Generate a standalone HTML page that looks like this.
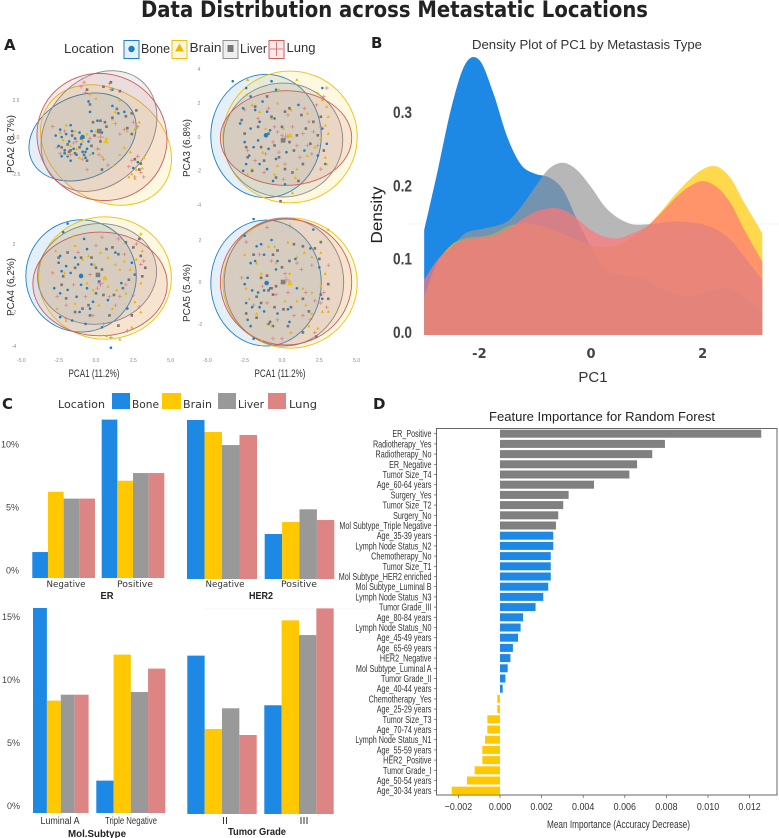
<!DOCTYPE html>
<html lang="en">
<head>
<meta charset="utf-8">
<title>Data Distribution across Metastatic Locations</title>
<style>
html,body{margin:0;padding:0;background:#fff;}
svg{display:block;font-family:"Liberation Sans",sans-serif;}
</style>
</head>
<body>
<svg id="fig" xmlns="http://www.w3.org/2000/svg" width="779" height="838" viewBox="0 0 779 838">
<rect width="779" height="838" fill="#fff"/>
<text x="141" y="17" font-family="'DejaVu Sans',sans-serif" font-weight="700" font-size="22" fill="#222" textLength="507" lengthAdjust="spacingAndGlyphs">Data Distribution across Metastatic Locations</text>
<text x="4" y="50" font-family="'DejaVu Sans',sans-serif" font-weight="700" font-size="15" fill="#222">A</text>
<text x="371" y="48" font-family="'DejaVu Sans',sans-serif" font-weight="700" font-size="15" fill="#222">B</text>
<text x="2" y="409" font-family="'DejaVu Sans',sans-serif" font-weight="700" font-size="15" fill="#222">C</text>
<text x="373" y="409" font-family="'DejaVu Sans',sans-serif" font-weight="700" font-size="15" fill="#222">D</text>

<g>
<text x="64" y="53" font-size="13" fill="#333" textLength="50" lengthAdjust="spacingAndGlyphs">Location</text>
<rect x="124" y="40.500" width="15" height="18" fill="#e4f0fa" stroke="#1f7fc4" stroke-width="1"/>
<circle cx="131.500" cy="49" r="3.200" fill="#1f7fc4"/>
<text x="141" y="53" font-size="13" fill="#333" textLength="29" lengthAdjust="spacingAndGlyphs">Bone</text>
<rect x="172" y="40.500" width="15" height="18" fill="#fdf7dd" stroke="#eebf10" stroke-width="1"/>
<polygon points="179.500,43.500 184,51.500 175,51.500" fill="#eeb500"/>
<text x="189.500" y="52" font-size="13" fill="#333" textLength="32" lengthAdjust="spacingAndGlyphs">Brain</text>
<rect x="223" y="40.500" width="15" height="18" fill="#eeeeee" stroke="#8f8f8f" stroke-width="1"/>
<rect x="227.500" y="45" width="6" height="7" fill="#777"/>
<text x="240" y="53" font-size="13" fill="#333" textLength="27" lengthAdjust="spacingAndGlyphs">Liver</text>
<rect x="269" y="40.500" width="15" height="18" fill="#fae9e7" stroke="#cd5c5c" stroke-width="1"/>
<path d="M276.500 42V56M270 49H283" stroke="#cd5c5c" stroke-width="0.800" fill="none"/>
<text x="286.500" y="52" font-size="13" fill="#333" textLength="29" lengthAdjust="spacingAndGlyphs">Lung</text>
</g>
<g id="pca"></g>

<line x1="408" y1="224" x2="779" y2="224" stroke="#f0f0f0" stroke-width="0.700"/>
<line x1="205" y1="609" x2="370" y2="609" stroke="#f0f0f0" stroke-width="0.700"/>
<g id="density">
<text x="472" y="49" font-size="12.500" fill="#333" textLength="230" lengthAdjust="spacingAndGlyphs">Density Plot of PC1 by Metastasis Type</text>
<text transform="translate(382,215) rotate(-90)" text-anchor="middle" font-size="16" fill="#222" textLength="57" lengthAdjust="spacingAndGlyphs">Density</text>
<text x="593" y="382" text-anchor="middle" font-size="15" fill="#333">PC1</text>
</g>

<g>
<text x="58" y="408" font-family="'DejaVu Sans',sans-serif" font-size="10.500" fill="#333" textLength="47" lengthAdjust="spacingAndGlyphs">Location</text>
<rect x="112" y="393" width="18" height="16" fill="#1e88e5"/>
<text x="132" y="408" font-family="'DejaVu Sans',sans-serif" font-size="10.500" fill="#333" textLength="27" lengthAdjust="spacingAndGlyphs">Bone</text>
<rect x="162" y="393" width="19" height="16" fill="#ffc800"/>
<text x="183" y="408" font-family="'DejaVu Sans',sans-serif" font-size="10.500" fill="#333" textLength="29" lengthAdjust="spacingAndGlyphs">Brain</text>
<rect x="218" y="393" width="18" height="16" fill="#999"/>
<text x="238" y="408" font-family="'DejaVu Sans',sans-serif" font-size="10.500" fill="#333" textLength="26" lengthAdjust="spacingAndGlyphs">Liver</text>
<rect x="268" y="393" width="18" height="16" fill="#dd8585"/>
<text x="289" y="408" font-family="'DejaVu Sans',sans-serif" font-size="10.500" fill="#333" textLength="28" lengthAdjust="spacingAndGlyphs">Lung</text>
</g>
<g id="bars"></g>

<g id="importance">
<text x="489" y="421" font-size="13" fill="#222" textLength="226" lengthAdjust="spacingAndGlyphs">Feature Importance for Random Forest</text>
<text x="547" y="828" font-size="11" fill="#333" textLength="143" lengthAdjust="spacingAndGlyphs">Mean Importance (Accuracy Decrease)</text>
</g>

<script>
// ---------- Panel A data (in PCA units) ----------
const locations = ['Bone', 'Brain', 'Liver', 'Lung'];
const ellipseCx12 = [-0.9, 0.67, 0.2, 0.4];
const ellipseCy12 = [0, -0.54, 0.4, 0];
const ellipseRx12 = [3.75, 4.7, 4.4, 4.4];
const ellipseRy12 = [2.77, 3.7, 3.5, 4.25];
const ellipseTilt12 = [-25, 35, -50, 30];
const ellipseCx13 = [-1.07, 0.54, 0.07, 0.27];
const ellipseCy13 = [0.06, 0, -0.18, -0.06];
const ellipseRx13 = [3.7, 4.5, 4.0, 4.4];
const ellipseRy13 = [3.65, 3.9, 3.37, 2.8];
const ellipseTilt13 = [0, 0, 0, 0];
const ellipseCx14 = [-1.0, 0.6, 0.07, 0.27];
const ellipseCy14 = [0.12, 0, 0.24, -0.35];
const ellipseRx14 = [3.7, 4.45, 4.0, 4.5];
const ellipseRy14 = [3.3, 3.6, 2.95, 3.05];
const ellipseTilt14 = [0, 0, -8, 0];
const ellipseCx15 = [-1.07, 0.54, 0.13, 0.27];
const ellipseCy15 = [-0.05, -0.05, 0, 0];
const ellipseRx15 = [3.7, 4.5, 4.0, 4.4];
const ellipseRy15 = [3.0, 3.1, 3.05, 3.0];
const ellipseTilt15 = [0, 0, 0, 0];

const centroid12 = [[-0.9, 0], [0.67, -0.27], [0.22, 0.4], [0.3, 0]];
const centroid13 = [[-1.07, 0.1], [0.54, 0.1], [0.07, -0.2], [0.25, 0]];
const centroid14 = [[-1, 0.12], [0.6, 0], [0.13, 0.18], [0.3, -0.3]];
const centroid15 = [[-1.03, -0.05], [0.54, -0.05], [0.07, 0], [0.27, 0.1]];

const pca2Bone = [[-2.7,0.1],[-2.5,-0.6],[-2.4,0.5],[-2.3,-1.3],[-2.1,-0.9],[-2,0.2],[-1.9,-1.3],[-1.8,-0.3],[-1.7,0.8],[-1.6,0.4],[-1.5,-0.8],[-1.4,-0.1],[-1.3,-1.2],[-1.1,0.3],[-1,-0.5],[-0.9,-1],[-0.7,-1.4],[-0.6,-0.8],[-0.5,-0.3],[-0.3,0.4],[-0.2,-1.1],[0.1,1.1],[-0.4,1.7],[-0.5,2.4],[1.1,3.2],[1.5,1.6],[1.1,2.1],[0.4,0.3],[1.9,1.7],[2.5,-2.1],[2.8,-1.7],[-0.7,-1],[-1.7,-1.6],[-2.3,0]];
const pca2Brain = [[-2.4,0.3],[-2.2,-0.2],[-2,0.8],[-1.9,-1.2],[-1.7,-0.6],[-1.4,0.4],[-1.3,-0.8],[-1.1,-1.4],[-0.9,-0.3],[-0.6,0.2],[-0.4,-1.2],[0,0.4],[0.2,-0.8],[0.4,-1.3],[0.7,-0.1],[1.2,-1.9],[1.3,1.7],[1.6,2.5],[1.1,1.2],[-0.4,2.9],[0,2.6],[2.1,0.4],[2.6,0.5],[1.9,-0.7],[2.3,-1],[2.4,-2.5],[2.7,-2.2],[3,-1.7],[3.1,-2.1],[2.6,-2.8],[2.2,-2.7],[3.2,-1.4],[2.9,1],[1.6,-1.2]];
const pca2Liver = [[-2.3,-0.7],[-2.1,-1.1],[-1.9,-0.5],[-1.8,-1],[-1.6,0.1],[-1.4,-1.1],[-1,-0.1],[-0.8,-1.2],[-0.6,-1.6],[-0.3,-0.6],[-0.1,0.1],[0.3,-0.3],[-0.2,1],[0.3,1.1],[0.6,1],[1.1,1.3],[1.4,1.9],[1.6,3.1],[1,3.7],[0.5,3.4],[-0.6,3.2],[-0.4,2.2],[2,1.4],[2.4,1.6],[2.7,1.8],[2.1,0.6],[2.4,0.2],[0.4,-2.2],[2.6,-1.5],[2.9,-2.2],[3,-1.8],[0.7,0.7],[-1.1,-0.7],[-1.7,-0.9]];
const pca2Lung = [[-2.6,-0.7],[-2.4,-1.1],[-2.1,0.4],[-1.7,-1.2],[-1.3,-0.3],[-0.9,-1.5],[-0.6,-2.2],[-0.4,-0.1],[0.2,-1.2],[0.5,-1.5],[1,3.2],[0.9,3.6],[-0.8,3.7],[-1,3.4],[-0.7,3],[1.3,0.9],[1.9,0.5],[2.5,1],[2.2,-2],[2.6,-2.7],[2.8,-1.3],[3,-2.4],[2.4,-1.6],[3.2,-2.7],[0.8,-1.9],[0.1,-0.8],[-2.9,0.7],[-1.5,-0.4],[1.6,0.2],[2.8,0.7]];

const pca3Bone = [[-3.3,3.3],[-2.4,2.9],[-2.1,2.4],[-2.6,1.7],[-2.8,0.8],[-2.5,-0.3],[-2.4,-1.6],[-2.6,-2],[-1.9,-0.6],[-1.5,0.9],[-1.3,2.1],[-1,1.5],[-0.8,0.4],[-0.9,-0.7],[-1.6,-0.2],[-1.5,-1.6],[-1,-1.9],[-0.4,-1.3],[-0.6,-2.6],[0.2,-2.8],[-0.5,1.1],[-0.4,2.8],[-0.7,3.3],[2.7,2.9],[1.1,1.9],[2.7,0.5],[3,-0.4],[2.4,-1.1],[2.9,-1.6],[-2.1,0.5],[-1.8,1.6],[-2.2,-1.1],[0.3,-0.9],[1.5,-0.8]];
const pca3Brain = [[-2.3,3.4],[-2.4,2.5],[-2,1.9],[-1.5,1.5],[-2,-1.9],[-2.3,-2.2],[-1.3,-0.9],[-1.1,0.5],[-0.7,1.1],[-0.3,2],[-0.2,2.8],[1,3.4],[2.4,2.6],[2.7,2.2],[3,1.8],[3.1,1.2],[2.9,0.7],[3.1,0.2],[2.6,-0.1],[2.2,-0.6],[2.9,-1.2],[3,-1.6],[1.7,-1.1],[1,-1.9],[0.9,-2.4],[1.6,-2.7],[0.7,-3.3],[0.1,0.5],[0.4,0.1],[-0.5,-2.2],[-0.3,-1.7],[1.7,1.4],[0.6,1.6]];
const pca3Liver = [[-2.7,1],[-2.5,0.2],[-2.4,-0.6],[-2.3,-1.2],[-2,-2],[-1.8,1.8],[-1.6,0.6],[-1.4,-0.6],[-1.2,-1.4],[-0.9,0.2],[-0.7,1.2],[-0.5,-0.5],[-0.2,-1.2],[0,0.6],[0.2,1.5],[0.5,-0.3],[0.5,1.7],[0.8,-0.8],[1,0.1],[1.3,1.3],[1.6,0.5],[1.9,-0.4],[2.1,0.9],[2.4,0.1],[2.6,1.2],[2.8,-0.8],[1.4,-1.6],[0.7,-2.1],[-0.4,-2.4],[1.1,-2.6],[-0.1,-3.8],[0.2,-1.9],[-1,2.4]];
const pca3Lung = [[-2.5,1.6],[-2.3,-0.8],[-1.8,-1.4],[-1.6,1.1],[-1.1,-1],[-0.6,-0.3],[-0.5,0.6],[-0.2,-0.9],[0.2,-1.6],[0.4,1.3],[0.7,0.6],[1,-0.5],[1.2,-1.2],[1.4,0.2],[1.7,-0.5],[2,-1],[2.1,0.3],[2.4,-0.5],[2.6,0.6],[2.8,2.4],[3,2.9],[2.3,1.9],[0.1,-2.5],[-1.2,-2.1],[-0.9,1.7],[1.5,1.7],[2.6,-1.9],[0,0.1],[-0.3,0.3],[1.8,0.9]];

const pca4Bone = [[-1.9,3.2],[-2.2,2.7],[-0.8,2.3],[-0.6,1.7],[-2.4,1.3],[-2.5,0.9],[-2.3,0.4],[-2,0.7],[-1.7,0.3],[-1.4,1.2],[-1.2,0.8],[-1,-0.4],[-2.8,-0.6],[-2.4,-0.9],[-1.9,-0.7],[-1.3,-1.1],[-0.6,-0.6],[-0.2,-1.4],[-0.4,-1.8],[-1.1,-2],[-2.4,-2.3],[-0.7,-2.7],[0.4,-2.9],[1,-4.1],[0.2,-0.2],[2.1,-1.8],[2.4,0.9],[1.3,1.5],[-1.6,-2.5],[-0.3,0.8],[1.7,-0.3],[0.8,-1.3]];
const pca4Brain = [[-1.5,2.5],[-2.7,1.6],[-2.1,0.3],[-1.4,1.9],[-0.9,1.1],[-0.5,1.3],[-0.1,0.8],[0.3,1.5],[0.8,1.2],[1.3,0.8],[1.6,0.5],[1.9,1],[2.3,0.5],[2.7,1.1],[3,2.6],[3.1,1.6],[3,-0.3],[2.6,-1.4],[3,-2],[2.4,-2.9],[1.6,-3.6],[0.7,-3.4],[2,-0.9],[1.4,-0.7],[0.8,-0.5],[-0.2,-0.7],[-1.4,-1.5],[-2.6,-1.8],[-2,-2.5],[-0.6,-0.3],[0.2,-1.6],[1.1,-1.8]];
const pca4Liver = [[-2.5,1.2],[-1.9,1.5],[-1.4,0.6],[-1,1.2],[-0.3,1.2],[0,0.6],[0.4,0.5],[0.7,1.7],[1.1,1.8],[1.5,1.4],[2,2.1],[2.5,1.8],[2.9,2.3],[3,1.3],[3.3,0.6],[3.1,0.1],[2.6,0.2],[2.2,-0.1],[1.8,-0.6],[1.2,-1],[0.5,-1],[0,-0.9],[-0.5,-1.6],[-0.9,-1.8],[-1.4,-2],[-2.3,-0.4],[-2,-1.2],[0.9,-2.2],[2.4,-2.2],[-0.4,-2.2],[1.5,-2.8],[-2.2,0.1]];
const pca4Lung = [[-2.9,0.3],[-2.6,-1.1],[-2,-1.6],[-1.5,-0.4],[-0.7,-1.1],[0,1.9],[0.4,2.4],[-0.4,0.2],[0.3,-0.4],[0.6,0],[0.9,-1.1],[1.3,-1.6],[1.6,-1.1],[2,-0.4],[2.5,-1],[2.9,-1.7],[3,0.8],[3.2,1],[2.7,2],[1.5,2.3],[-2,-2.4],[-0.2,-2.2],[0.5,-2.7],[1,-3.5],[1.9,1.4],[-1.2,1.5],[0.1,-0.6],[2.1,-3.1]];

const pca5Bone = [[-1.9,3],[-2.5,2.2],[-1.7,1.7],[-1.4,1.8],[-2.1,0.9],[-1.8,1],[-2.3,0.2],[-2.5,-0.1],[-2,-0.4],[-1.6,-0.5],[-1.2,-0.4],[-2.4,-1],[-2,-1.2],[-1.5,-1.2],[-1.2,-1.4],[-2.3,-1.8],[-2.1,-2.1],[-1.9,-2.7],[-0.8,-0.3],[-0.4,0.6],[-0.3,1],[-0.7,2],[2.1,2.5],[1.9,1.6],[2.5,0.7],[1,-0.3],[0.4,-1.3],[-0.3,-1.5],[-0.9,-2],[0.5,-1.9],[2.7,-0.8],[-1.2,1.3],[-0.6,-2.1],[0.9,1.1]];
const pca5Brain = [[-1.7,0.9],[-1.4,0.4],[-2.4,-0.3],[-2.2,-0.8],[-1.7,-1.5],[-0.9,1.7],[-0.5,1.7],[-0.4,0.9],[0.4,1.9],[1,1.2],[1.5,1.4],[2,1.2],[2.6,1.4],[3.1,2.5],[2.9,0.4],[2.6,-0.2],[2,-0.5],[1.6,-1.1],[2,-1.5],[2.7,-1.4],[3.1,-1.4],[1.8,-2.1],[2.4,-2.2],[-1,-2],[-0.7,-2.1],[0.6,-2.4],[-1.4,-2.8],[0.2,-0.9],[1,-0.9],[-2.5,1.3],[1.4,-0.3],[0.5,0.4]];
const pca5Liver = [[-1.9,1.3],[-1.7,-0.7],[-1.4,0.2],[-1,0.3],[-0.9,-0.4],[-0.7,-0.3],[-0.6,-0.6],[-0.4,-0.2],[-0.6,1.3],[-0.3,1.5],[0,0.7],[0.5,1],[0.8,1.8],[1.4,1.7],[2.2,1.6],[2.6,1.9],[2.5,1.1],[3.1,-0.1],[3.1,-0.8],[2.6,-0.6],[1.4,-0.8],[1.8,-1.4],[0.6,-1.2],[0.1,-1.3],[-0.5,-1.2],[-1.4,-1],[-2.4,-1.5],[-0.8,-1.9],[0.4,-2.1],[1.4,-2.4],[2.3,-2.6],[-1.7,-1.7]];
const pca5Lung = [[-2.7,0.2],[-2.4,1.9],[-1.9,-1.1],[-1.5,1.3],[-1,-1],[-0.7,1],[-0.4,-0.6],[0.2,0.4],[0.4,-0.5],[0.5,0],[1,0.9],[1.3,0.6],[0.5,2.7],[-1,2.6],[1.6,-0.5],[2,0.8],[2.2,-0.9],[2.8,-0.5],[3,-1.2],[2.6,-1],[1.9,-1.8],[1.4,-1.6],[0.8,-1.6],[-0.3,-1.8],[-0.6,-2.7],[0,-2.7],[2.2,-2.4],[3.1,0.8],[-1.3,-0.2]];

// ---------- Panel B data ----------
const pc1Grid = [-2.99,-2.76,-2.5,-2.25,-2,-1.75,-1.5,-1.25,-1,-0.75,-0.5,-0.25,0,0.25,0.5,0.75,1,1.25,1.5,1.75,2,2.25,2.5,2.75,3.07];
const densityBone = [0.143,0.220,0.311,0.370,0.375,0.330,0.270,0.232,0.220,0.215,0.198,0.157,0.120,0.091,0.082,0.080,0.075,0.064,0.057,0.052,0.057,0.062,0.064,0.052,0.030];
const densityBrain = [0.052,0.098,0.123,0.132,0.134,0.138,0.148,0.152,0.151,0.145,0.138,0.130,0.123,0.120,0.123,0.134,0.148,0.168,0.191,0.211,0.226,0.230,0.214,0.180,0.139];
const densityLiver = [0.052,0.098,0.120,0.139,0.144,0.148,0.155,0.175,0.202,0.227,0.235,0.225,0.202,0.175,0.159,0.151,0.151,0.153,0.155,0.154,0.151,0.144,0.130,0.107,0.075];
const densityLung = [0.075,0.102,0.120,0.130,0.132,0.135,0.143,0.157,0.168,0.173,0.171,0.159,0.143,0.134,0.132,0.139,0.148,0.166,0.186,0.202,0.210,0.202,0.180,0.143,0.100];
const densityYTicks = [0, 0.1, 0.2, 0.3];
const densityYTickLabels = ['0.0', '0.1', '0.2', '0.3'];
const densityXTicks = [-2, 0, 2];
const densityXTickLabels = ['-2', '0', '2'];

// ---------- Panel C data (percent) ----------
const erCategories = ['Negative', 'Positive'];
const erNegative = [2.06, 6.85, 6.3, 6.3];
const erPositive = [12.57, 7.72, 8.33, 8.33];
const her2Categories = ['Negative', 'Positive'];
const her2Negative = [12.62, 11.67, 10.63, 11.43];
const her2Positive = [3.57, 4.52, 5.53, 4.68];
const subtypeCategories = ['Luminal A', 'Triple Negative'];
const subtypeLuminalA = [16.27, 8.92, 9.39, 9.39];
const subtypeTripleNegative = [2.57, 12.57, 9.6, 11.46];
const gradeCategories = ['II', 'III'];
const gradeII = [12.57, 6.75, 8.39, 6.27];
const gradeIII = [8.63, 15.37, 14.2, 16.32];
const upperTickValues = [0, 5, 10];
const upperTickLabels = ['0%', '5%', '10%'];
const lowerTickValues = [0, 5, 10, 15];
const lowerTickLabels = ['0%', '5%', '10%', '15%'];

// ---------- Panel D data ----------
const featureNames = ['ER_Positive','Radiotherapy_Yes','Radiotherapy_No','ER_Negative','Tumor Size_T4','Age_60-64 years','Surgery_Yes','Tumor Size_T2','Surgery_No','Mol Subtype_Triple Negative','Age_35-39 years','Lymph Node Status_N2','Chemotherapy_No','Tumor Size_T1','Mol Subtype_HER2 enriched','Mol Subtype_Luminal B','Lymph Node Status_N3','Tumor Grade_III','Age_80-84 years','Lymph Node Status_N0','Age_45-49 years','Age_65-69 years','HER2_Negative','Mol Subtype_Luminal A','Tumor Grade_II','Age_40-44 years','Chemotherapy_Yes','Age_25-29 years','Tumor Size_T3','Age_70-74 years','Lymph Node Status_N1','Age_55-59 years','HER2_Positive','Tumor Grade_I','Age_50-54 years','Age_30-34 years'];
const featureImportance = [0.01256,0.00793,0.00732,0.00659,0.00622,0.00452,0.0033,0.00304,0.0028,0.00269,0.00256,0.00256,0.00244,0.00244,0.00244,0.00232,0.00208,0.00171,0.00111,0.00099,0.00087,0.00062,0.0005,0.00037,0.00026,0.00013,-0.00013,-0.00013,-0.00061,-0.00061,-0.00072,-0.00085,-0.00085,-0.00122,-0.00159,-0.00232];
const featureBands = ['top','top','top','top','top','top','top','top','top','top','mid','mid','mid','mid','mid','mid','mid','mid','mid','mid','mid','mid','mid','mid','mid','mid','neg','neg','neg','neg','neg','neg','neg','neg','neg','neg'];
const importanceTicks = [-0.002, 0, 0.002, 0.004, 0.006, 0.008, 0.010, 0.012];
const importanceTickLabels = ['\u22120.002', '0.000', '0.002', '0.004', '0.006', '0.008', '0.010', '0.012'];

// ---------- helpers ----------
const NS = 'http://www.w3.org/2000/svg';
function mk(tag, parent, attrs) {
  const el = document.createElementNS(NS, tag);
  for (const k in attrs) el.setAttribute(k, attrs[k]);
  parent.appendChild(el);
  return el;
}
function slug(s) { return String(s).toLowerCase().replace(/[^a-z0-9]+/g, '-').replace(/^-|-$/g, ''); }

// ---------- Panel A ----------
(function () {
  const root = document.getElementById('pca');
  const strokeCol = ['#1f7fc4', '#eebf10', '#8a8a8a', '#cd5c5c'];
  const fillCol = ['#1f7fc4', '#f2c200', '#7f7f7f', '#cd5c5c'];
  const ptCol = ['#1f7fc4', '#e8b400', '#7a7370', '#d98080'];
  const panels = [
    { name:'pca2', x0:96, y0:137, sy:14.8, tx:16, ticks:[2.5,0,-2.5], tl:['2.5','0.0','-2.5'], title:'PCA2 (8.7%)', tp:[14,144], pts:[pca2Bone,pca2Brain,pca2Liver,pca2Lung], cen:centroid12, el:[ellipseCx12,ellipseCy12,ellipseRx12,ellipseRy12,ellipseTilt12], xax:false },
    { name:'pca3', x0:282, y0:137, sy:16.9, tx:199, ticks:[4,2,0,-2,-4], tl:['4','2','0','-2','-4'], title:'PCA3 (6.8%)', tp:[190,148], pts:[pca3Bone,pca3Brain,pca3Liver,pca3Lung], cen:centroid13, el:[ellipseCx13,ellipseCy13,ellipseRx13,ellipseRy13,ellipseTilt13], xax:false },
    { name:'pca4', x0:96, y0:278, sy:17, tx:14, ticks:[2,0,-2,-4], tl:['2','0','-2','-4'], title:'PCA4 (6.2%)', tp:[14,287], pts:[pca4Bone,pca4Brain,pca4Liver,pca4Lung], cen:centroid14, el:[ellipseCx14,ellipseCy14,ellipseRx14,ellipseRy14,ellipseTilt14], xax:true },
    { name:'pca5', x0:282, y0:282, sy:21, tx:200, ticks:[2,0,-2], tl:['2','0','-2'], title:'PCA5 (5.4%)', tp:[190,293], pts:[pca5Bone,pca5Brain,pca5Liver,pca5Lung], cen:centroid15, el:[ellipseCx15,ellipseCy15,ellipseRx15,ellipseRy15,ellipseTilt15], xax:true }
  ];
  const sx = 14.93;
  const xTicks = [-5, -2.5, 0, 2.5, 5];
  const xTickLabels = ['-5.0', '-2.5', '0.0', '2.5', '5.0'];
  panels.forEach(function (p) {
    const g = mk('g', root, {});
    
    
    const X = function (v) { return p.x0 + sx * v; };
    const Y = function (v) { return p.y0 - p.sy * v; };
    locations.forEach(function (loc, i) {
      const e = mk('ellipse', g, { cx: X(p.el[0][i]), cy: Y(p.el[1][i]), rx: p.el[2][i] * sx, ry: p.el[3][i] * p.sy,
        fill: fillCol[i], 'fill-opacity': 0.12, stroke: strokeCol[i], 'stroke-width': 0.9,
        transform: 'rotate(' + p.el[4][i] + ' ' + X(p.el[0][i]) + ' ' + Y(p.el[1][i]) + ')' });
      
      
    });
    const drawMark = function (i, px, py, s, col) {
      let m;
      if (i === 0) m = mk('circle', g, { cx: px, cy: py, r: s, fill: col });
      else if (i === 1) m = mk('polygon', g, { points: px + ',' + (py - s * 1.2) + ' ' + (px + s * 1.2) + ',' + (py + s) + ' ' + (px - s * 1.2) + ',' + (py + s), fill: col });
      else if (i === 2) m = mk('rect', g, { x: px - s, y: py - s, width: 2 * s, height: 2 * s, fill: col });
      else m = mk('path', g, { d: 'M' + (px - s * 1.5) + ' ' + py + 'H' + (px + s * 1.5) + 'M' + px + ' ' + (py - s * 1.5) + 'V' + (py + s * 1.5), stroke: col, 'stroke-width': 0.7, fill: 'none' });
      return m;
    };
    locations.forEach(function (loc, i) {
      p.pts[i].forEach(function (d) {
        const m = drawMark(i, X(d[0]), Y(d[1]), 1.3, ptCol[i]);
        
        
      });
    });
    locations.forEach(function (loc, i) {
      const m = drawMark(i, X(p.cen[i][0]), Y(p.cen[i][1]), 2.3, i === 3 ? '#d98080' : fillCol[i]);
      
      
    });
    p.ticks.forEach(function (t, i) {
      const l = mk('text', g, { x: p.tx, y: Y(t) + 1.8, 'text-anchor': 'middle', 'font-size': 5, fill: '#888' });
      l.textContent = p.tl[i];
      
      
    });
    const yt = mk('text', g, { transform: 'translate(' + p.tp[0] + ',' + p.tp[1] + ') rotate(-90)', 'text-anchor': 'middle', 'font-size': 10.5, fill: '#333', textLength: 58, lengthAdjust: 'spacingAndGlyphs' });
    yt.textContent = p.title;
    
    
    if (p.xax) {
      xTicks.forEach(function (t, i) {
        const l = mk('text', g, { x: X(t), y: 362, 'text-anchor': 'middle', 'font-size': 5, fill: '#888' });
        l.textContent = xTickLabels[i];
        
        
      });
      const xt = mk('text', g, { x: p.x0 - 2, y: 377, 'text-anchor': 'middle', 'font-size': 11, fill: '#333', textLength: 51, lengthAdjust: 'spacingAndGlyphs' });
      xt.textContent = 'PCA1 (11.2%)';
      
      
    }
  });
})();

// ---------- Panel B ----------
(function () {
  const root = document.getElementById('density');
  const X = function (v) { return 591 + 55.8 * v; };
  const Y = function (d) { return 335 - 733 * d; };
  const series = [
    { n: 'bone', v: densityBone, c: '#1e88e5', o: 1 },
    { n: 'brain', v: densityBrain, c: '#ffc800', o: 0.7 },
    { n: 'liver', v: densityLiver, c: '#999999', o: 0.7 },
    { n: 'lung', v: densityLung, c: '#ff7676', o: 0.7 }
  ];
  series.forEach(function (s) {
    const pts = pc1Grid.map(function (g, i) { return [X(g), Y(s.v[i])]; });
    let d = 'M' + pts[0][0] + ' ' + Y(0) + 'L' + pts[0][0] + ' ' + pts[0][1];
    for (let i = 0; i < pts.length - 1; i++) {
      const p0 = pts[Math.max(i - 1, 0)], p1 = pts[i], p2 = pts[i + 1], p3 = pts[Math.min(i + 2, pts.length - 1)];
      d += 'C' + (p1[0] + (p2[0] - p0[0]) / 6) + ' ' + (p1[1] + (p2[1] - p0[1]) / 6) + ' ' + (p2[0] - (p3[0] - p1[0]) / 6) + ' ' + (p2[1] - (p3[1] - p1[1]) / 6) + ' ' + p2[0] + ' ' + p2[1];
    }
    d += 'L' + pts[pts.length - 1][0] + ' ' + Y(0) + 'Z';
    const a = mk('path', root, { d: d, fill: s.c, 'fill-opacity': s.o });
    
    
  });
  densityYTicks.forEach(function (t, i) {
    const l = mk('text', root, { x: 393, y: Y(t) + 3, 'font-size': 16.5, 'font-weight': 700, fill: '#444', textLength: 19, lengthAdjust: 'spacingAndGlyphs' });
    l.textContent = densityYTickLabels[i];
    
    
  });
  densityXTicks.forEach(function (t, i) {
    const l = mk('text', root, { x: X(t), y: 358, 'text-anchor': 'middle', 'font-family': "'DejaVu Sans',sans-serif", 'font-size': 13, 'font-weight': 700, fill: '#444' });
    l.textContent = densityXTickLabels[i];
    
    
  });
})();

// ---------- Panel C ----------
(function () {
  const root = document.getElementById('bars');
  const colors = ['#1e88e5', '#ffc800', '#999999', '#dd8585'];
  const scale = 12.6;
  const facets = [
    { name:'er', title:'ER', tw:13, tx:107, ty:599, base:578, groups:[[32.3,15.67,erNegative],[101.7,15.65,erPositive]], cats:erCategories, lx:[66,135], lw:[39,36], ly:587, lfs:'d' },
    { name:'her2', title:'HER2', tw:24, tx:261, ty:599, base:579, groups:[[187,17.5,her2Negative],[264.7,17.4,her2Positive]], cats:her2Categories, lx:[225,299], lw:[39,36], ly:587, lfs:'d' },
    { name:'subtype', title:'Mol.Subtype', tw:58, tx:97, ty:837, base:813, groups:[[33,13.9,subtypeLuminalA],[96.3,17.25,subtypeTripleNegative]], cats:subtypeCategories, lx:[60,131], lw:[39,52], ly:824, lfs:'l' },
    { name:'grade', title:'Tumor Grade', tw:58, tx:257, ty:835, base:814, groups:[[187.3,17.35,gradeII],[264.3,17.35,gradeIII]], cats:gradeCategories, lx:[225,304], lw:[6,9], ly:824, lfs:'l' }
  ];
  facets.forEach(function (f) {
    const g = mk('g', root, {});
    
    
    const Y = function (v) { return f.base - scale * v; };
    f.groups.forEach(function (gr, gi) {
      gr[2].forEach(function (v, i) {
        const r = mk('rect', g, { x: gr[0] + i * gr[1], y: Y(v), width: gr[1], height: f.base - Y(v), fill: colors[i] });
        
        
      });
      const attrs = { x: f.lx[gi], y: f.ly, 'text-anchor': 'middle', fill: '#333', textLength: f.lw[gi], lengthAdjust: 'spacingAndGlyphs' };
      if (f.lfs === 'd') { attrs['font-family'] = "'DejaVu Sans',sans-serif"; attrs['font-size'] = 8.5; }
      else { attrs['font-size'] = 10; }
      const c = mk('text', g, attrs);
      c.textContent = f.cats[gi];
      
      
    });
    const t = mk('text', g, { x: f.tx, y: f.ty, 'text-anchor': 'middle', 'font-size': 10.5, 'font-weight': 700, fill: '#222', textLength: f.tw, lengthAdjust: 'spacingAndGlyphs' });
    t.textContent = f.title;
    
    
  });
  upperTickValues.forEach(function (v, i) {
    const l = mk('text', root, { x: 19, y: 578 - 12.6 * v - 4.5, 'text-anchor': 'end', 'font-size': 9, fill: '#444' });
    l.textContent = upperTickLabels[i];
    
    
  });
  lowerTickValues.forEach(function (v, i) {
    const l = mk('text', root, { x: 20, y: 813 - 12.6 * v - 4, 'text-anchor': 'end', 'font-size': 9, fill: '#444' });
    l.textContent = lowerTickLabels[i];
    
    
  });
})();

// ---------- Panel D ----------
(function () {
  const root = document.getElementById('importance');
  const X = function (v) { return 500 + 20800 * v; };
  const Yc = function (i) { return 433.7 + 10.2 * i; };
  const bandColor = { top: '#808080', mid: '#1e88e5', neg: '#ffc800' };
  const frame = mk('rect', root, { x: 436.5, y: 428.5, width: 340.5, height: 366.5, fill: 'none', stroke: '#666', 'stroke-width': 1 });
  
  
  featureImportance.forEach(function (v, i) {
    const x0 = Math.min(X(0), X(v));
    const w = Math.abs(X(v) - X(0));
    const r = mk('rect', root, { x: x0, y: Yc(i) - 4, width: w, height: 8, fill: bandColor[featureBands[i]] });
    
    
    const tk = mk('line', root, { x1: 434, x2: 436.5, y1: Yc(i), y2: Yc(i), stroke: '#555', 'stroke-width': 0.7 });
    
    
    const l = mk('text', root, { transform: 'translate(431.5,' + (Yc(i) + 3.5) + ') scale(0.72,1)', 'text-anchor': 'end', 'font-size': 10, fill: '#333' });
    l.textContent = featureNames[i];
    
    
  });
  importanceTicks.forEach(function (t, i) {
    const tk = mk('line', root, { x1: X(t), x2: X(t), y1: 795, y2: 798, stroke: '#555', 'stroke-width': 0.7 });
    
    
    const l = mk('text', root, { transform: 'translate(' + X(t) + ',810) scale(0.85,1)', 'text-anchor': 'middle', 'font-size': 10.5, fill: '#333' });
    l.textContent = importanceTickLabels[i];
    
    
  });
})();
</script>
</svg>
</body>
</html>
